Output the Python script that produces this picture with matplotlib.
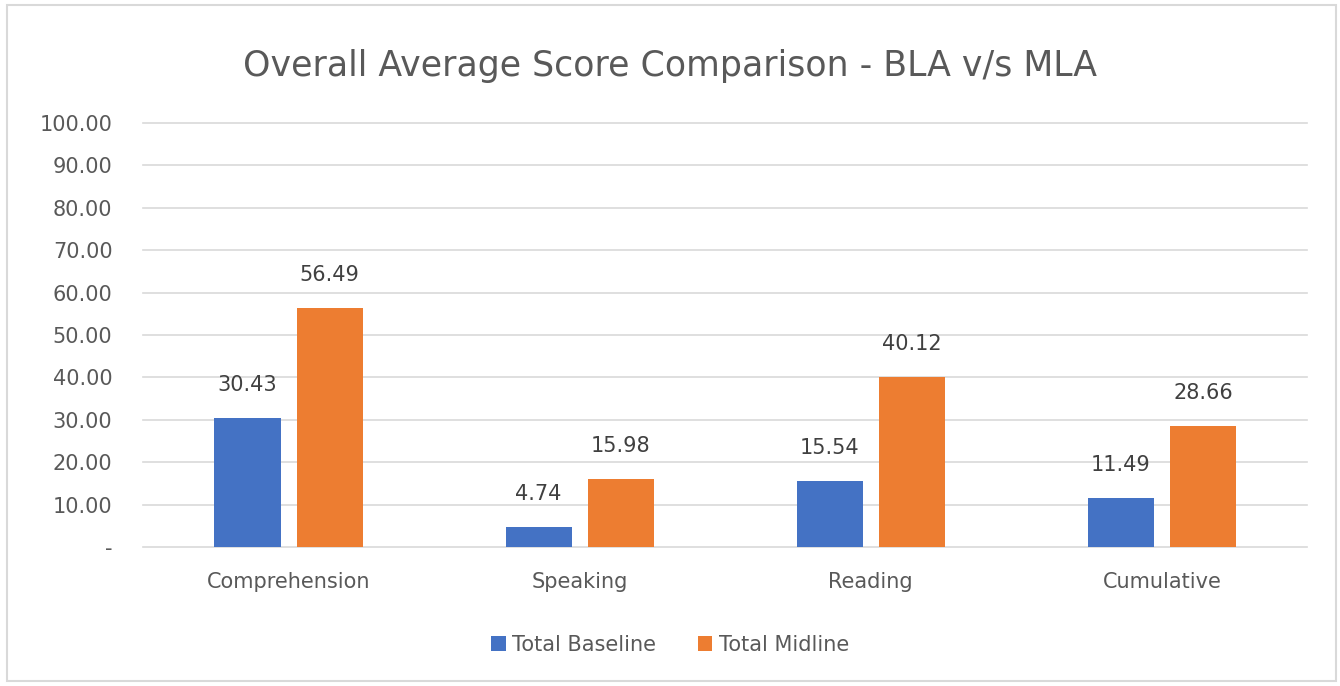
import matplotlib
matplotlib.use('Agg')
import matplotlib.pyplot as plt
from matplotlib.patches import Rectangle
import numpy as np

# Chart data
categories = ["Comprehension", "Speaking", "Reading", "Cumulative"]
baseline = [30.43, 4.74, 15.54, 11.49]
midline = [56.49, 15.98, 40.12, 28.66]
series_names = ["Total Baseline", "Total Midline"]
y_ticks = [0, 10, 20, 30, 40, 50, 60, 70, 80, 90, 100]

blue = '#4472C4'
orange = '#ED7D31'
text_gray = '#595959'
grid_gray = '#D9D9D9'

plt.rcParams['font.family'] = ['DejaVu Sans']

fig = plt.figure(figsize=(13.4, 6.86), dpi=100)
ax = fig.add_axes([0.1067, 0.2026, 0.869, 0.618])

x = np.arange(len(categories))
w = 0.227
off = 0.141
b1 = ax.bar(x - off, baseline, w, color=blue, label=series_names[0], zorder=3)
b2 = ax.bar(x + off, midline, w, color=orange, label=series_names[1], zorder=3)

for bars, vals in ((b1, baseline), (b2, midline)):
    for r, v in zip(bars, vals):
        ax.annotate(f"{v:.2f}", (r.get_x() + r.get_width() / 2, v),
                    xytext=(0, 16.5), textcoords='offset points',
                    ha='center', va='bottom', fontsize=15, color='#404040')

ax.set_xlim(-0.5, 3.5)
ax.set_ylim(0, 100)
ax.set_yticks(y_ticks)
ax.set_yticklabels(['-' if t == 0 else f"{t:.2f}" for t in y_ticks])
ax.set_xticks(x)
ax.set_xticklabels(categories)
ax.tick_params(axis='both', length=0, labelsize=15, labelcolor=text_gray)
ax.tick_params(axis='y', pad=22)
ax.tick_params(axis='x', pad=18)
ax.grid(axis='y', color=grid_gray, linewidth=1.2, zorder=0)
for gl in ax.get_ygridlines():
    gl.set_clip_on(False)
for s in ax.spines.values():
    s.set_visible(False)

fig.text(0.5, 0.904, "Overall Average Score Comparison - BLA v/s MLA",
         ha='center', va='center', fontsize=25, color=text_gray)

fig.legend(handles=[b1, b2], labels=series_names, loc='center',
           bbox_to_anchor=(0.5, 0.06), ncol=2, frameon=False,
           fontsize=15, labelcolor=text_gray, handlelength=0.7,
           handleheight=0.7, handletextpad=0.3, columnspacing=2.0)

fig.patches.append(Rectangle((0.005, 0.008), 0.992, 0.985, transform=fig.transFigure,
                             fill=False, edgecolor='#D9D9D9', linewidth=1.5))

plt.savefig('out.png', dpi=100)
